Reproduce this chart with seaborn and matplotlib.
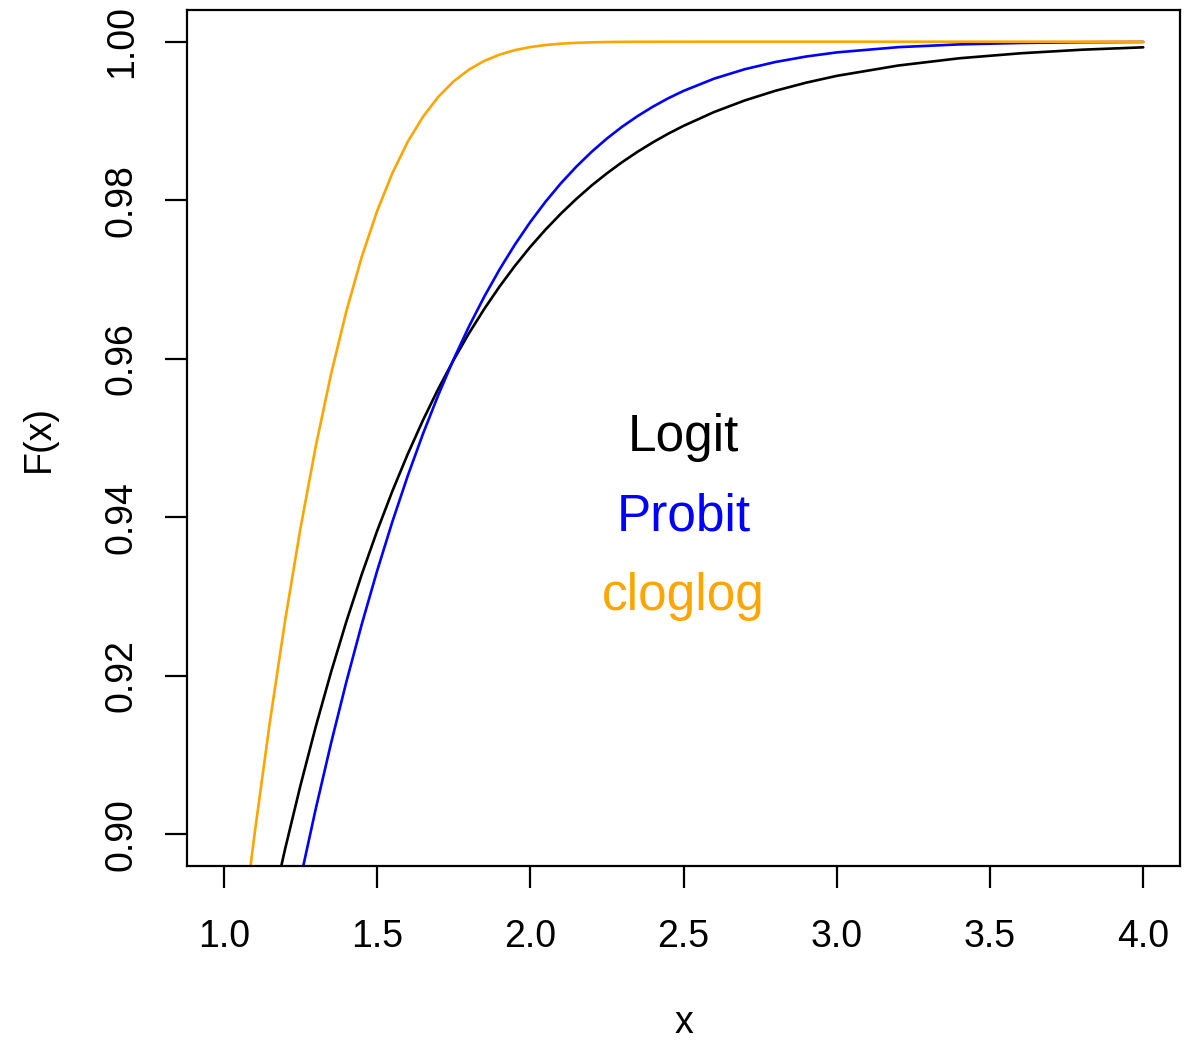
import numpy as np
import pandas as pd
import matplotlib
matplotlib.use("Agg")
import matplotlib.pyplot as plt
import seaborn as sns

# values
x_vals = [1.00, 1.05, 1.10, 1.15, 1.20, 1.25, 1.30, 1.35, 1.40, 1.45,
          1.50, 1.55, 1.60, 1.65, 1.70, 1.75, 1.80, 1.85, 1.90, 1.95,
          2.00, 2.05, 2.10, 2.15, 2.20, 2.25, 2.30, 2.35, 2.40, 2.45,
          2.50, 2.6, 2.7, 2.8, 2.9, 3.0, 3.2, 3.4, 3.6, 3.8, 4.0]

logit_F = [0.85982, 0.87040, 0.88029, 0.88952, 0.89813, 0.90613, 0.91357, 0.92046, 0.92685, 0.93277,
           0.93824, 0.94329, 0.94795, 0.95225, 0.95621, 0.95985, 0.96321, 0.96629, 0.96912, 0.97172,
           0.97411, 0.97630, 0.97831, 0.98015, 0.98185, 0.98339, 0.98481, 0.98611, 0.98730, 0.98839,
           0.98938, 0.99113, 0.99259, 0.99381, 0.99483, 0.99569, 0.99699, 0.99791, 0.99854, 0.99899, 0.99929]

probit_F = [0.84134, 0.85314, 0.86433, 0.87493, 0.88493, 0.89435, 0.90320, 0.91149, 0.91924, 0.92647,
            0.93319, 0.93943, 0.94520, 0.95053, 0.95543, 0.95994, 0.96407, 0.96784, 0.97128, 0.97441,
            0.97725, 0.97982, 0.98214, 0.98422, 0.98610, 0.98778, 0.98928, 0.99061, 0.99180, 0.99286,
            0.99379, 0.99534, 0.99653, 0.99744, 0.99813, 0.99865, 0.99931, 0.99966, 0.99984, 0.99993, 0.99997]

cloglog_F = [0.86794, 0.88453, 0.89990, 0.91406, 0.92694, 0.93857, 0.94893, 0.95806, 0.96601, 0.97283,
             0.97860, 0.98341, 0.98736, 0.99053, 0.99305, 0.99500, 0.99648, 0.99758, 0.99837, 0.99894,
             0.99932, 0.99958, 0.99975, 0.99986, 0.99992, 0.99996, 0.99998, 0.99999, 0.999995, 0.999998,
             0.999999, 1.0, 1.0, 1.0, 1.0, 1.0, 1.0, 1.0, 1.0, 1.0, 1.0]

labels = ["Logit", "Probit", "cloglog"]
label_y = [0.95, 0.94, 0.93]
colors = ["black", "blue", "orange"]

sns.set_style("ticks")
plt.rcParams["font.family"] = ["Liberation Sans", "DejaVu Sans"]

fig = plt.figure(figsize=(11.84, 10.45), dpi=100)
ax = fig.add_axes([187/1184, 1-866/1045, (1180-187)/1184, (866-10)/1045])

for F, c in zip([logit_F, probit_F, cloglog_F], colors):
    sns.lineplot(x=x_vals, y=F, color=c, linewidth=1.9, ax=ax, estimator=None, sort=False)

for lab, ly, c in zip(labels, label_y, colors):
    ax.text(2.5, ly, lab, color=c, fontsize=37, ha="center", va="center")

ax.set_xlim(0.88, 4.12)
ax.set_ylim(0.896, 1.004)
ax.set_xticks([1.0, 1.5, 2.0, 2.5, 3.0, 3.5, 4.0])
ax.set_xticklabels(["1.0", "1.5", "2.0", "2.5", "3.0", "3.5", "4.0"])
ax.set_yticks([0.90, 0.92, 0.94, 0.96, 0.98, 1.00])
ax.set_yticklabels(["0.90", "0.92", "0.94", "0.96", "0.98", "1.00"], rotation=90, va="center")
ax.tick_params(axis="both", length=16, width=1.6, labelsize=27, color="black", labelcolor="black")
ax.tick_params(axis="x", pad=22)
ax.tick_params(axis="y", pad=18)
for s in ax.spines.values():
    s.set_linewidth(1.6)
    s.set_color("black")
    s.set_visible(True)

ax.set_xlabel("x", fontsize=27, labelpad=36, color="black")
ax.set_ylabel("F(x)", fontsize=27, labelpad=34, color="black")

fig.savefig("out.png", dpi=100)
